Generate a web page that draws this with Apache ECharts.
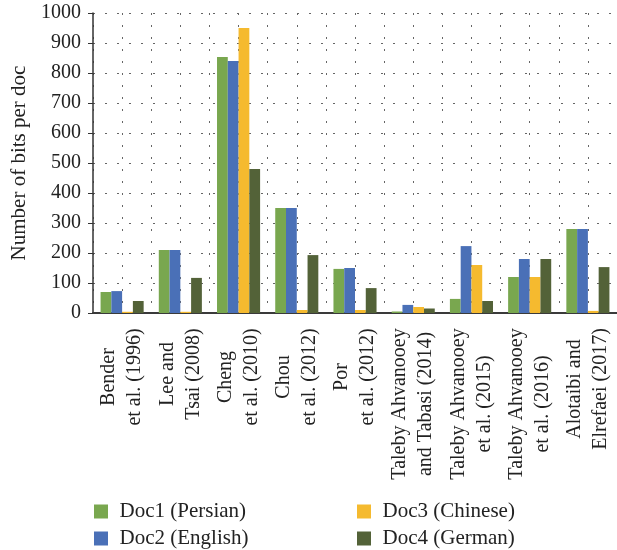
<!DOCTYPE html>
<html>
<head>
<meta charset="utf-8">
<script src="https://cdn.jsdelivr.net/npm/echarts@6/dist/echarts.min.js"></script>
<style>
  html, body { margin: 0; padding: 0; background: #fff; }
  #chart { width: 617px; height: 550px; }
</style>
</head>
<body>
<div id="chart"></div>
<script>
var categories = [
  'Bender\net al. (1996)',
  'Lee and\nTsai (2008)',
  'Cheng\net al. (2010)',
  'Chou\net al. (2012)',
  'Por\net al. (2012)',
  'Taleby Ahvanooey\nand Tabasi (2014)',
  'Taleby Ahvanooey\net al. (2015)',
  'Taleby Ahvanooey\net al. (2016)',
  'Alotaibi and\nElrefaei (2017)'
];
var doc1 = [70, 210, 853, 350, 147, 5, 47, 120, 280];
var doc2 = [73, 210, 840, 350, 150, 27, 223, 180, 280];
var doc3 = [4, 4, 950, 10, 10, 20, 160, 120, 7];
var doc4 = [40, 117, 480, 193, 83, 15, 40, 180, 153];
var yTicks = [0, 100, 200, 300, 400, 500, 600, 700, 800, 900, 1000];

var font = '"Liberation Serif", "DejaVu Serif", serif';
var colors = ['#79a74f', '#4a70b7', '#f5ba2f', '#536238'];

// measure label lines so each label's lines can be centred on each other
var ctx = document.createElement('canvas').getContext('2d');
ctx.font = '20px ' + font;
var rich = {};
categories.forEach(function (c, i) {
  var w = 0;
  c.split('\n').forEach(function (l) { w = Math.max(w, ctx.measureText(l).width); });
  rich['l' + i] = {
    width: Math.ceil(w), align: 'center', fontFamily: font,
    fontSize: 20, color: '#222', lineHeight: 26
  };
});

var myChart = echarts.init(document.getElementById('chart'));

var dotted = { color: '#666', width: 1, type: [2, 10] };
var legendText = { fontFamily: font, fontSize: 21, color: '#222', lineHeight: 21 };

var option = {
  animation: false,
  grid: { left: 93, right: -2, top: 13, bottom: 237 },
  legend: [
    {
      data: ['Doc1 (Persian)', 'Doc2 (English)'],
      orient: 'vertical', left: 89, top: 496, height: 60, itemGap: 6,
      itemWidth: 27, itemHeight: 14,
      icon: 'path://M0,0H10V10H0Z',
      textStyle: legendText
    },
    {
      data: ['Doc3 (Chinese)', 'Doc4 (German)'],
      orient: 'vertical', left: 352, top: 496, height: 60, itemGap: 6,
      itemWidth: 27, itemHeight: 14,
      icon: 'path://M0,0H10V10H0Z',
      textStyle: legendText
    }
  ],
  xAxis: [
    {
      type: 'category',
      data: categories,
      axisLine: { lineStyle: { color: '#3a3a3a', width: 2 } },
      axisTick: { show: false },
      axisLabel: {
        interval: 0, rotate: 90, margin: 15,
        formatter: function (v, i) {
          return v.split('\n').map(function (l) { return '{l' + i + '|' + l + '}'; }).join('\n');
        },
        rich: rich
      }
    },
    {
      type: 'value', min: 0, max: 18, interval: 1,
      position: 'bottom',
      axisLine: { show: false }, axisTick: { show: false }, axisLabel: { show: false },
      splitLine: { show: true, lineStyle: dotted }
    }
  ],
  yAxis: {
    type: 'value', min: 0, max: 1000, interval: 100,
    name: 'Number of bits per doc',
    nameLocation: 'middle', nameGap: 58,
    nameTextStyle: { fontFamily: font, fontSize: 21, color: '#222' },
    axisLine: { show: true, lineStyle: { color: '#333', width: 1.5 } },
    axisTick: { show: true, length: 5, lineStyle: { color: '#333' } },
    axisLabel: {
      margin: 12, fontFamily: font, fontSize: 20, color: '#222',
      formatter: function (v) { return yTicks.indexOf(v) >= 0 ? String(v) : ''; }
    },
    splitLine: { show: true, lineStyle: dotted }
  },
  series: [
    { name: 'Doc1 (Persian)', type: 'bar', data: doc1, barGap: '0%', barCategoryGap: '26%', itemStyle: { color: colors[0] } },
    { name: 'Doc2 (English)', type: 'bar', data: doc2, barGap: '0%', barCategoryGap: '26%', itemStyle: { color: colors[1] } },
    { name: 'Doc3 (Chinese)', type: 'bar', data: doc3, barGap: '0%', barCategoryGap: '26%', itemStyle: { color: colors[2] } },
    { name: 'Doc4 (German)', type: 'bar', data: doc4, barGap: '0%', barCategoryGap: '26%', itemStyle: { color: colors[3] } }
  ]
};

myChart.setOption(option);
</script>
</body>
</html>
